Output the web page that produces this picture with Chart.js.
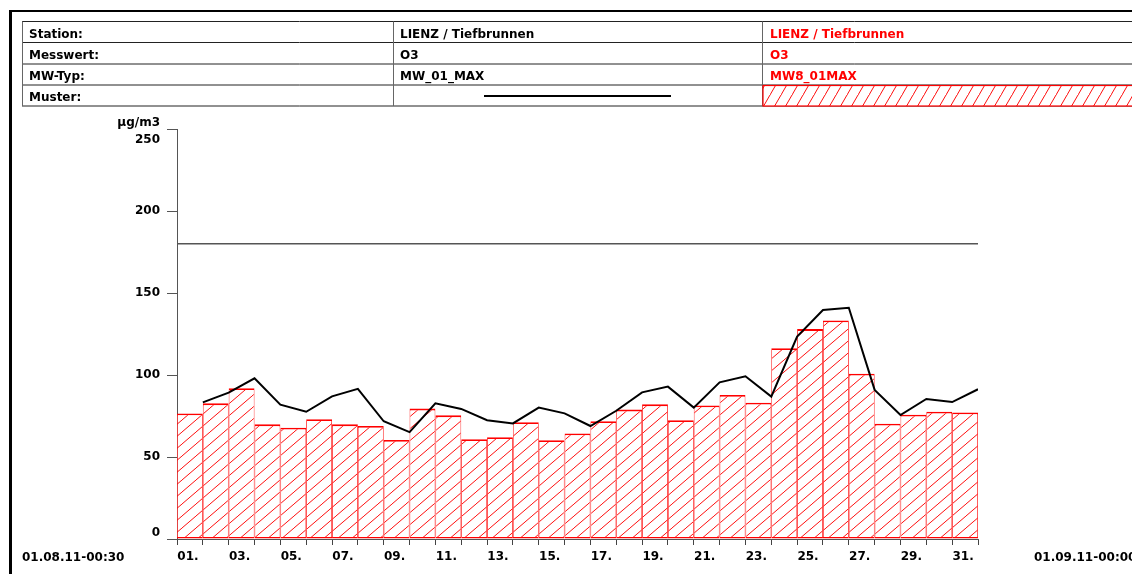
<!DOCTYPE html>
<html>
<head>
<meta charset="utf-8">
<script src="https://cdn.jsdelivr.net/npm/chart.js@4.4.1/dist/chart.umd.min.js"></script>
<style>
  html, body { margin: 0; padding: 0; background: #fff; overflow: hidden; }
  canvas { display: block; }
</style>
</head>
<body>
<canvas id="c" width="1132" height="574"></canvas>
<script>
// Daily categories (August 2011)
const dayLabels = ['01.','02.','03.','04.','05.','06.','07.','08.','09.','10.',
                   '11.','12.','13.','14.','15.','16.','17.','18.','19.','20.',
                   '21.','22.','23.','24.','25.','26.','27.','28.','29.','30.','31.'];

// MW8_01MAX: daily maximum of 8-hour mean (hatched bars)
const mw8Values = [76.6, 82.7, 91.9, 69.9, 67.9, 73.0, 69.9, 68.9, 60.4, 79.5,
                   75.4, 60.8, 62.0, 71.2, 60.2, 64.4, 71.8, 78.9, 82.1, 72.4,
                   81.4, 87.8, 83.1, 116.3, 128.0, 133.3, 100.8, 70.3, 75.8, 77.6, 77.2];

// MW_01_MAX: daily maximum of 1-hour mean, plotted at end of each day (line)
const mw01Values = [83.3, 89.2, 98.0, 81.9, 77.6, 87.0, 91.6, 71.8, 65.2, 82.7,
                    79.3, 72.4, 70.5, 80.1, 76.6, 68.9, 78.2, 89.4, 92.9, 80.1,
                    95.5, 99.2, 86.8, 123.4, 139.6, 141.0, 90.9, 75.6, 85.4, 83.5, 91.3];

// Information threshold for ozone
const limitValue = 180;

const yTickValues = [0, 50, 100, 150, 200, 250];
const unitLabel = 'µg/m3';
const periodStart = '01.08.11-00:30';
const periodEnd = '01.09.11-00:00';

const headerRows = [
  ['Station:',  'LIENZ / Tiefbrunnen', 'LIENZ / Tiefbrunnen'],
  ['Messwert:', 'O3',                  'O3'],
  ['MW-Typ:',   'MW_01_MAX',           'MW8_01MAX'],
  ['Muster:',   '',                    '']
];

const FONT = 'DejaVu Sans';
const RED = '#ff0000';

// Diagonal hatch tile, lines rising from bottom-left to top-right
function hatchPattern(w, h, color, lw) {
  const c = document.createElement('canvas');
  c.width = w; c.height = h;
  const g = c.getContext('2d');
  g.fillStyle = '#ffffff';
  g.fillRect(0, 0, w, h);
  g.strokeStyle = color;
  g.lineWidth = lw;
  g.beginPath();
  g.moveTo(-w, h);    g.lineTo(w, -h);
  g.moveTo(-w, 2*h);  g.lineTo(2*w, -h);
  g.moveTo(0, 3*h);   g.lineTo(3*w, 0);
  g.stroke();
  return g.createPattern(c, 'repeat');
}

const ctx = document.getElementById('c').getContext('2d');
const barHatch = hatchPattern(14, 12, 'rgba(255,0,0,0.95)', 1);
const legendHatch = hatchPattern(11, 19, 'rgba(255,0,0,0.95)', 1);

// Header table, frame and free-standing captions
const decorations = {
  id: 'decorations',
  afterDraw(chart) {
    const g = chart.ctx;
    g.save();
    // page frame
    g.fillStyle = '#000';
    g.fillRect(9, 10, 1123, 2);
    g.fillRect(9, 10, 3, 564);

    // table grid
    const left = 22, colX = [22, 393, 762], right = 1132;
    const rowY = [21.5, 42.5, 64, 85, 106];
    g.strokeStyle = '#222';
    g.lineWidth = 1;
    rowY.forEach(y => {
      g.beginPath(); g.moveTo(left, y); g.lineTo(right, y); g.stroke();
    });
    g.strokeStyle = '#666';
    colX.forEach(x => {
      g.beginPath(); g.moveTo(x + 0.5, rowY[0]); g.lineTo(x + 0.5, rowY[4]); g.stroke();
    });

    // pattern row: line sample and hatch sample
    g.fillStyle = legendHatch;
    g.fillRect(763, 85.5, right - 763, 20.5);
    g.strokeStyle = RED;
    g.lineWidth = 1.2;
    g.strokeRect(763, 85.5, right - 763 + 2, 20.5);
    g.strokeStyle = '#000';
    g.lineWidth = 2;
    g.beginPath(); g.moveTo(484, 96); g.lineTo(671, 96); g.stroke();

    // table text
    g.font = 'bold 12px "' + FONT + '"';
    g.textBaseline = 'alphabetic';
    g.textAlign = 'left';
    const textX = [29, 400, 770];
    headerRows.forEach((row, r) => {
      const y = rowY[r] + 16;
      row.forEach((txt, c) => {
        g.fillStyle = c === 2 ? RED : '#000';
        g.fillText(txt, textX[c], y);
      });
    });

    // unit and period captions
    g.fillStyle = '#000';
    g.textAlign = 'right';
    g.fillText(unitLabel, 160, 126);
    g.textAlign = 'left';
    g.fillText(periodStart, 22, 561);
    g.fillText(periodEnd, 1034, 561);
    g.restore();
  }
};

Chart.defaults.font.family = FONT;
Chart.defaults.font.weight = 'bold';
Chart.defaults.font.size = 12;
Chart.defaults.color = '#000';

new Chart(ctx, {
  type: 'bar',
  data: {
    labels: dayLabels,
    datasets: [
      {
        type: 'line',
        label: 'MW_01_MAX',
        data: mw01Values.map((v, i) => ({ x: i + 1, y: v })),
        xAxisID: 'x2',
        borderColor: '#000',
        borderWidth: 2,
        pointRadius: 0,
        tension: 0,
        order: 0
      },
      {
        type: 'line',
        label: 'limit',
        data: [{ x: 0, y: limitValue }, { x: dayLabels.length, y: limitValue }],
        xAxisID: 'x2',
        borderColor: '#555',
        borderWidth: 1.4,
        pointRadius: 0,
        order: 1
      },
      {
        type: 'bar',
        label: 'MW8_01MAX',
        data: mw8Values,
        xAxisID: 'x',
        grouped: false,
        backgroundColor: barHatch,
        borderColor: RED,
        borderWidth: { top: 1.8, bottom: 1.5, left: 0.8, right: 0.8 },
        borderSkipped: false,
        inflateAmount: 0,
        barPercentage: 1,
        categoryPercentage: 1,
        order: 2
      }
    ]
  },
  options: {
    responsive: false,
    animation: false,
    events: [],
    layout: { padding: { left: 117, right: 154, top: 129, bottom: 0 } },
    plugins: { legend: { display: false }, tooltip: { enabled: false } },
    scales: {
      x: {
        type: 'category',
        offset: true,
        grid: { offset: true, drawOnChartArea: false, drawTicks: true, tickLength: 6, color: '#444', lineWidth: 1 },
        border: { display: true, color: '#555', width: 1 },
        ticks: {
          autoSkip: false, maxRotation: 0, minRotation: 0, padding: 5, labelOffset: -2,
          callback: (v, i) => (i % 2 === 0 ? dayLabels[i] : '')
        },
        afterFit: s => { s.height = 35; }
      },
      x2: { type: 'linear', min: 0, max: dayLabels.length, offset: false, grid: { offset: false }, display: false },
      y: {
        min: 0, max: 250,
        afterBuildTicks: s => { s.ticks = yTickValues.map(v => ({ value: v })); },
        grid: { drawOnChartArea: false, drawTicks: true, tickLength: 10, color: '#555', lineWidth: 1 },
        border: { display: true, color: '#555', width: 1 },
        ticks: {
          padding: 7,
          // end labels are pulled inside the axis range
          font: c => ({
            size: 12, weight: 'bold',
            lineHeight: c.index === 0 ? '13px' : (c.index === yTickValues.length - 1 ? '21px' : '14px')
          }),
          callback: (v, i, arr) => i === 0 ? [String(v), ''] : (i === arr.length - 1 ? ['', String(v)] : String(v))
        },
        afterFit: s => { s.width = 60; }
      }
    }
  },
  plugins: [decorations]
});
</script>
</body>
</html>
